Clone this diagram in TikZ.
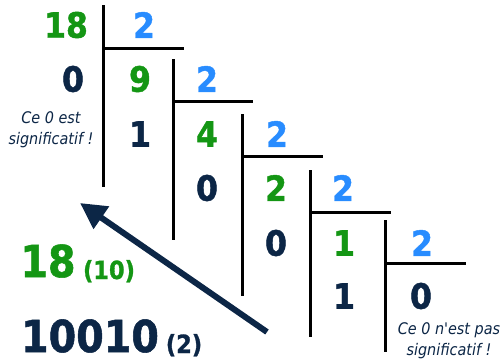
\documentclass[tikz,border=0pt]{standalone}
\usepackage{fontspec}
\usetikzlibrary{arrows.meta}
\newfontfamily\numfont{DejaVu Sans}[FakeStretch=0.9, BoldFeatures={FakeBold=1.2}]
\definecolor{dgreen}{RGB}{20,150,20}
\definecolor{dblue}{RGB}{40,140,255}
\definecolor{navy}{RGB}{12,38,70}
\tikzset{
  num/.style={inner sep=0pt, anchor=center, font=\numfont\bfseries\fontsize{35}{35}\selectfont},
  gnum/.style={num, text=dgreen},
  bnum/.style={num, text=dblue},
  dnum/.style={num, text=navy},
  divline/.style={line width=3pt, black},
  note/.style={inner sep=0pt, align=center, text=navy, font=\numfont\itshape\fontsize{16}{21}\selectfont},
  big/.style={inner sep=0pt, anchor=center, font=\numfont\bfseries\fontsize{44}{44}\selectfont},
  small/.style={inner sep=0pt, anchor=base, font=\numfont\bfseries\fontsize{25}{25}\selectfont},
}
\begin{document}
\begin{tikzpicture}[x=1pt,y=-1pt]
\useasboundingbox (0,0) rectangle (504,362);
% row 1
\node[gnum] (n18) at (66,25) {18};
\node[bnum] (d1) at (144,25) {2};
% row 2
\node[dnum] (r1) at (73,79) {0};
\node[gnum] (q1) at (140,79) {9};
\node[bnum] (d2) at (207,79) {2};
% row 3
\node[dnum] (r2) at (140,134) {1};
\node[gnum] (q2) at (207,134) {4};
\node[bnum] (d3) at (277,134) {2};
% row 4
\node[dnum] (r3) at (207,188) {0};
\node[gnum] (q3) at (276,188) {2};
\node[bnum] (d4) at (343,188) {2};
% row 5
\node[dnum] (r4) at (276,243) {0};
\node[gnum] (q4) at (344,243) {1};
\node[bnum] (d5) at (422,243) {2};
% row 6
\node[dnum] (r5) at (344,296) {1};
\node[dnum] (q5) at (421,296) {0};
% division lines
\draw[divline] (103,5) -- (103,187);
\draw[divline] (103,48) -- (184,48);
\draw[divline] (173,59) -- (173,240);
\draw[divline] (173,101) -- (253,101);
\draw[divline] (242,114) -- (242,296);
\draw[divline] (242,156) -- (323,156);
\draw[divline] (310,170) -- (310,337);
\draw[divline] (310,212) -- (391,212);
\draw[divline] (385,220) -- (385,352);
\draw[divline] (385,263) -- (466,263);
% notes
\node[note] (note1) at (51,130) {Ce 0 est\\significatif !};
\node[note] (note2) at (449,341) {Ce 0 n'est pas\\significatif !};
% results
\node[big, text=dgreen] (res10) at (48,261) {18};
\node[small, text=dgreen] (b10) at (109,279) {(10)};
\node[big, text=navy] (res2) at (90,336) {10010};
\node[small, text=navy] (b2) at (184,353) {(2)};
% arrow
\coordinate (atail) at (267,332);
\coordinate (ahead) at (80,203);
\draw[navy, line width=6pt, -{Triangle[length=26pt,width=26pt]}] (atail) -- (ahead);
\end{tikzpicture}
\end{document}
